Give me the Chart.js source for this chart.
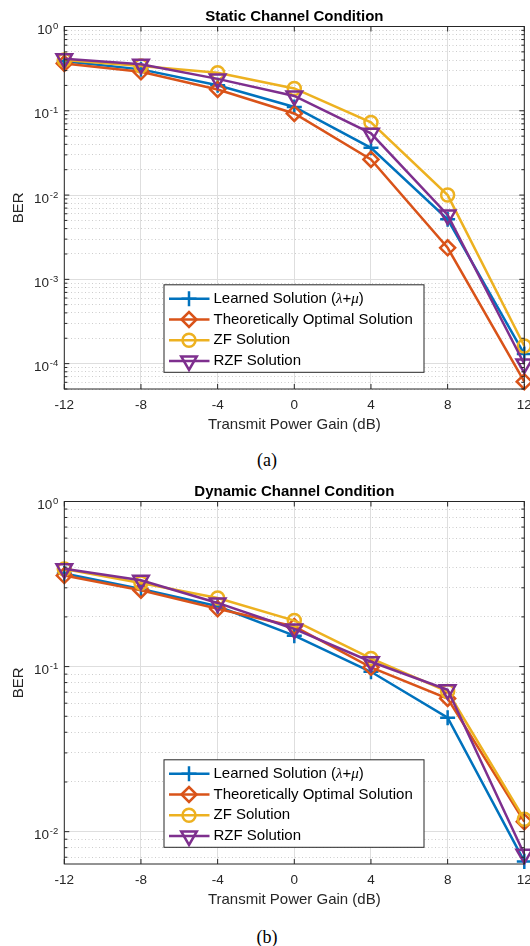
<!DOCTYPE html>
<html>
<head>
<meta charset="utf-8">
<script src="https://cdn.jsdelivr.net/npm/chart.js@4.4.1/dist/chart.umd.min.js"></script>
<style>
  body { margin: 0; width: 530px; height: 946px; background: #fff; position: relative; overflow: hidden; }
  canvas { position: absolute; left: 0; }
  #staticChart { top: 0; }
  #dynamicChart { top: 475px; }
  .caption { position: absolute; left: 2px; width: 530px; text-align: center; font: 18px "Liberation Serif", "Times New Roman", serif; line-height: 20px; color: #000; }
</style>
</head>
<body>
<canvas id="staticChart" width="530" height="445"></canvas>
<div class="caption" style="top: 450px">(a)</div>
<canvas id="dynamicChart" width="530" height="445"></canvas>
<div class="caption" style="top: 927px">(b)</div>
<script>
// x axis categories (dB)
const powerGain = ["-12", "-8", "-4", "0", "4", "8", "12"]

const seriesNames = ["Learned Solution (λ+μ)", "Theoretically Optimal Solution", "ZF Solution", "RZF Solution"]

// (a) static channel, BER per power gain
const staticLearned = [0.388, 0.31, 0.201, 0.111, 0.0364, 0.00515, 0.00013]
const staticOptimal = [0.364, 0.29, 0.179, 0.093, 0.0265, 0.00237, 0.000061]
const staticZF = [0.40, 0.34, 0.282, 0.184, 0.0728, 0.0100, 0.000162]
const staticRZF = [0.413, 0.357, 0.239, 0.150, 0.054, 0.0058, 0.000099]

// (b) dynamic channel, BER per power gain
const dynamicLearned = [0.366, 0.295, 0.232, 0.154, 0.093, 0.049, 0.0066]
const dynamicOptimal = [0.356, 0.29, 0.224, 0.175, 0.099, 0.0641, 0.0115]
const dynamicZF = [0.39, 0.321, 0.26, 0.19, 0.112, 0.0706, 0.0119]
const dynamicRZF = [0.391, 0.333, 0.243, 0.169, 0.107, 0.0723, 0.0073]

// y axis limits
const staticRange = [5e-5, 1]
const dynamicRange = [0.00637, 1]

const fontFamily = '"Liberation Sans", Arial, Helvetica, sans-serif'
const textColor = "#262626"
const axisColor = "#262626"
const majorGrid = "#dedede"
const minorGrid = "#cdcdcd"

const lineColors = ["#0072BD", "#D95319", "#EDB120", "#7E2F8E"]
const markers = [
  { style: "cross", radius: 7.5, rotation: 0 },
  { style: "rectRot", radius: 7.5, rotation: 0 },
  { style: "circle", radius: 6.5, rotation: 0 },
  { style: "triangle", radius: 9, rotation: 180 },
]

function isDecade(value) {
  if (!value) return false
  const e = Math.log10(value)
  return Math.abs(e - Math.round(e)) < 1e-9
}

// 1..9 x 10^e ticks between min and max
function logTicks(min, max) {
  const ticks = []
  for (let e = Math.floor(Math.log10(min)); e <= Math.ceil(Math.log10(max)); e++) {
    for (let k = 1; k <= 9; k++) {
      const v = k * Math.pow(10, e)
      if (v >= min * 0.999999 && v <= max * 1.000001) ticks.push({ value: v, major: k === 1 })
    }
  }
  return ticks
}

function drawRichText(ctx, text, x, y) {
  ctx.textAlign = "left"
  ctx.textBaseline = "middle"
  ctx.fillStyle = "#000"
  let cx = x
  text.split(/([λμ])/).forEach((part) => {
    if (!part) return
    ctx.font = /[λμ]/.test(part) ? 'italic 15px "Liberation Serif", serif' : "15px " + fontFamily
    ctx.fillText(part, cx, y)
    cx += ctx.measureText(part).width
  })
}

function drawLegend(chart) {
  const { ctx, chartArea: area } = chart
  const box = { left: area.left + 99.7, width: 260, height: 87.5 }
  box.top = area.bottom - 16.7 - box.height

  ctx.fillStyle = "#fff"
  ctx.fillRect(box.left, box.top, box.width, box.height)
  ctx.strokeStyle = axisColor
  ctx.lineWidth = 1
  ctx.strokeRect(box.left, box.top, box.width, box.height)

  chart.data.datasets.forEach((ds, i) => {
    const y = box.top + 14 + i * 20.7
    ctx.strokeStyle = ds.borderColor
    ctx.lineWidth = ds.borderWidth
    ctx.beginPath()
    ctx.moveTo(box.left + 5, y)
    ctx.lineTo(box.left + 45.5, y)
    ctx.stroke()

    ctx.fillStyle = "rgba(0,0,0,0)"
    ctx.lineWidth = ds.pointBorderWidth
    Chart.helpers.drawPoint(ctx, {
      pointStyle: ds.pointStyle,
      rotation: ds.pointRotation,
      radius: ds.pointRadius,
      borderWidth: ds.pointBorderWidth,
    }, box.left + 25, y)

    drawRichText(ctx, ds.label, box.left + 49.5, y)
  })
}

// box, inward ticks, 10^n labels and legend, MATLAB style
const matlabAxes = {
  id: "matlabAxes",
  afterDraw(chart) {
    const { ctx, chartArea: area, scales } = chart
    ctx.save()

    ctx.strokeStyle = axisColor
    ctx.lineWidth = 1
    ctx.beginPath()
    scales.x.ticks.forEach((t, i) => {
      const px = scales.x.getPixelForTick(i)
      ctx.moveTo(px, area.bottom)
      ctx.lineTo(px, area.bottom - 5)
      ctx.moveTo(px, area.top)
      ctx.lineTo(px, area.top + 5)
    })
    scales.y.ticks.forEach((t) => {
      const py = scales.y.getPixelForValue(t.value)
      const len = isDecade(t.value) ? 5 : 3
      ctx.moveTo(area.left, py)
      ctx.lineTo(area.left + len, py)
      ctx.moveTo(area.right, py)
      ctx.lineTo(area.right - len, py)
    })
    ctx.stroke()
    ctx.strokeRect(area.left, area.top, area.width, area.height)

    ctx.fillStyle = textColor
    ctx.textAlign = "right"
    ctx.textBaseline = "alphabetic"
    scales.y.ticks.filter((t) => isDecade(t.value)).forEach((t) => {
      const py = scales.y.getPixelForValue(t.value)
      const exp = String(Math.round(Math.log10(t.value)))
      const expRight = area.left - 6
      ctx.font = "9.5px " + fontFamily
      ctx.fillText(exp, expRight, py + 2.6)
      const w = ctx.measureText(exp).width
      ctx.font = "13.5px " + fontFamily
      ctx.fillText("10", expRight - w - 0.8, py + 7.6)
    })

    drawLegend(chart)
    ctx.restore()
  },
}

function makeChart(canvasId, titleText, series, range) {
  const ctx = document.getElementById(canvasId).getContext("2d")
  return new Chart(ctx, {
    type: "line",
    data: {
      labels: powerGain,
      datasets: series.map((values, i) => ({
        label: seriesNames[i],
        data: values,
        borderColor: lineColors[i],
        backgroundColor: lineColors[i],
        pointBorderColor: lineColors[i],
        pointBackgroundColor: "rgba(0,0,0,0)",
        borderWidth: 2.5,
        pointBorderWidth: 2.5,
        pointStyle: markers[i].style,
        pointRadius: markers[i].radius,
        pointRotation: markers[i].rotation,
        tension: 0,
        clip: false,
        order: series.length - 1 - i,
      })),
    },
    options: {
      responsive: false,
      animation: false,
      devicePixelRatio: 1,
      events: [],
      layout: { autoPadding: false, padding: { left: 0, right: 5.7, top: 0, bottom: 0 } },
      plugins: {
        legend: { display: false },
        tooltip: { enabled: false },
        title: {
          display: true,
          text: titleText,
          fullSize: false,
          color: "#000",
          font: { size: 15, weight: "bold", family: fontFamily },
          padding: { top: 8, bottom: 0.5 },
        },
      },
      scales: {
        x: {
          type: "category",
          offset: false,
          afterFit: (scale) => {
            scale.height = 56
            scale.paddingLeft = 0
            scale.paddingRight = 0
          },
          ticks: {
            color: textColor,
            font: { size: 13.5, family: fontFamily },
            padding: 8.6,
            maxRotation: 0,
            autoSkip: false,
          },
          grid: { drawTicks: false, color: majorGrid, lineWidth: 1 },
          border: { display: false },
          title: {
            display: true,
            text: "Transmit Power Gain (dB)",
            color: textColor,
            font: { size: 15, family: fontFamily },
            padding: { top: 0, bottom: 10.7 },
          },
        },
        y: {
          type: "logarithmic",
          min: range[0],
          max: range[1],
          bounds: "data",
          afterBuildTicks: (scale) => {
            scale.ticks = logTicks(range[0], range[1])
          },
          afterFit: (scale) => {
            scale.width = 64.3
            scale.paddingTop = 0
            scale.paddingBottom = 0
          },
          ticks: { display: false },
          grid: {
            drawTicks: false,
            lineWidth: 1,
            color: (c) => (c.tick && isDecade(c.tick.value) ? majorGrid : minorGrid),
          },
          border: {
            display: false,
            dash: (c) => (c.tick && isDecade(c.tick.value) ? [] : [1, 2.5]),
          },
          title: {
            display: true,
            text: "BER",
            color: textColor,
            font: { size: 15, family: fontFamily },
            padding: { top: 9.7, bottom: 0 },
          },
        },
      },
    },
    plugins: [matlabAxes],
  })
}

makeChart("staticChart", "Static Channel Condition",
  [staticLearned, staticOptimal, staticZF, staticRZF], staticRange)
makeChart("dynamicChart", "Dynamic Channel Condition",
  [dynamicLearned, dynamicOptimal, dynamicZF, dynamicRZF], dynamicRange)
</script>
</body>
</html>
